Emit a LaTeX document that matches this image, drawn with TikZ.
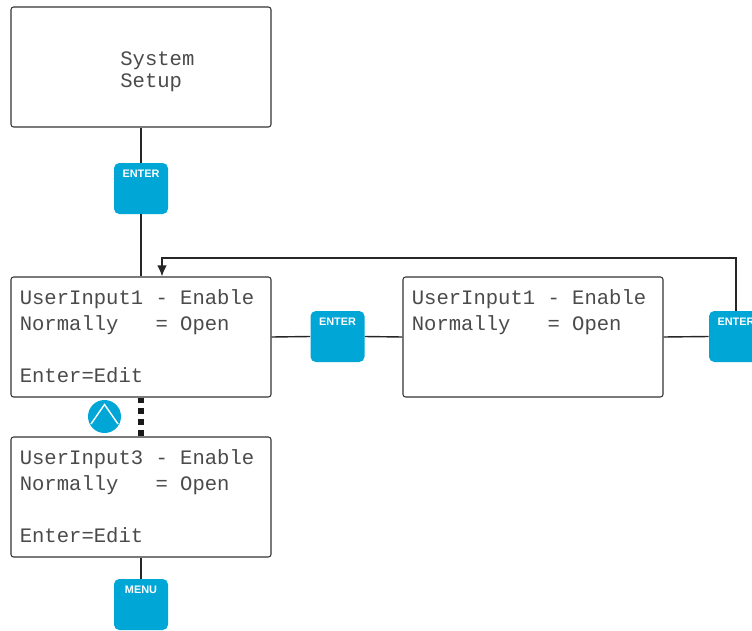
\documentclass[tikz,border=0pt]{standalone}
\usepackage{fontspec}
\setmainfont{Liberation Sans}
\setmonofont{Liberation Mono}
\usepackage{tikz}
\usetikzlibrary{arrows.meta}
\definecolor{keyblue}{HTML}{00A6D6}
\definecolor{lcdtext}{HTML}{4A4A4A}

\begin{document}
\begin{tikzpicture}[
  lcd/.style={draw=black!80,line width=0.6pt,rounded corners=1.5pt,minimum width=5.2cm,minimum height=2.4cm,inner sep=0pt},
  lcdtxt/.style={anchor=north west,align=left,inner sep=0pt,text=lcdtext,font=\ttfamily\fontsize{11.7}{14.8}\selectfont},
  keylbl/.style={anchor=north,yshift=-0.14cm,inner sep=0pt,text=white,font=\bfseries\fontsize{6.2}{7}\selectfont},
  key/.style={fill=keyblue,rounded corners=3pt,minimum width=1.08cm,minimum height=1.02cm,inner sep=0pt,label={[keylbl]north:#1}},
  wire/.style={draw=black!85,line width=0.8pt},
  dotwire/.style={draw=black!90,line width=3.2pt,dash pattern=on 3.2pt off 3pt}
]
\useasboundingbox (0,0) rectangle (15.04,12.6);

% screens
\node[lcd] (sys) at (2.82,11.26) {};
\node[lcdtxt,font=\ttfamily\fontsize{11.7}{12.5}\selectfont] (systxt) at (2.40,11.58) {System\\Setup};

\node[lcd] (ui1) at (2.82,5.86) {};
\node[lcdtxt] (ui1txt) at ([shift={(0.18,-0.26)}]ui1.north west)
  {UserInput1~-~Enable\\Normally~~~=~Open\\~\\Enter=Edit};

\node[lcd] (ui1b) at (10.66,5.86) {};
\node[lcdtxt] (ui1btxt) at ([shift={(0.18,-0.26)}]ui1b.north west)
  {UserInput1~-~Enable\\Normally~~~=~Open};

\node[lcd] (ui3) at (2.82,2.66) {};
\node[lcdtxt] (ui3txt) at ([shift={(0.18,-0.26)}]ui3.north west)
  {UserInput3~-~Enable\\Normally~~~=~Open\\~\\Enter=Edit};

% keys
\node[key=ENTER] (ent1) at (2.82,8.83) {};
\node[key=ENTER] (ent2) at (6.75,5.87) {};
\node[key=ENTER] (ent3) at (14.72,5.87) {};
\node[key=MENU] (menu) at (2.82,0.51) {};
\node[circle,fill=keyblue,minimum size=0.66cm,inner sep=0pt] (up) at (2.09,4.27) {};
\draw[white,line width=0.8pt] ([shift={(-0.27,-0.15)}]up.center) -- ([shift={(0,0.24)}]up.center) -- ([shift={(0.27,-0.15)}]up.center);

% connectors
\draw[wire] (sys.south) -- (ent1.north);
\draw[wire] (ent1.south) -- (ui1.north);
\draw[wire] (ui1.east) -- (ent2.west);
\draw[wire] (ent2.east) -- (ui1b.west);
\draw[wire] (ui1b.east) -- (ent3.west);
\coordinate (back) at (3.24,7.44);
\draw[wire,-{Latex[length=2.2mm,width=1.9mm]}] (ent3.north) |- (back) -- (back |- ui1.north);
\draw[dotwire] (ui1.south) -- (ui3.north);
\draw[wire] (ui3.south) -- (menu.north);
\end{tikzpicture}
\end{document}
